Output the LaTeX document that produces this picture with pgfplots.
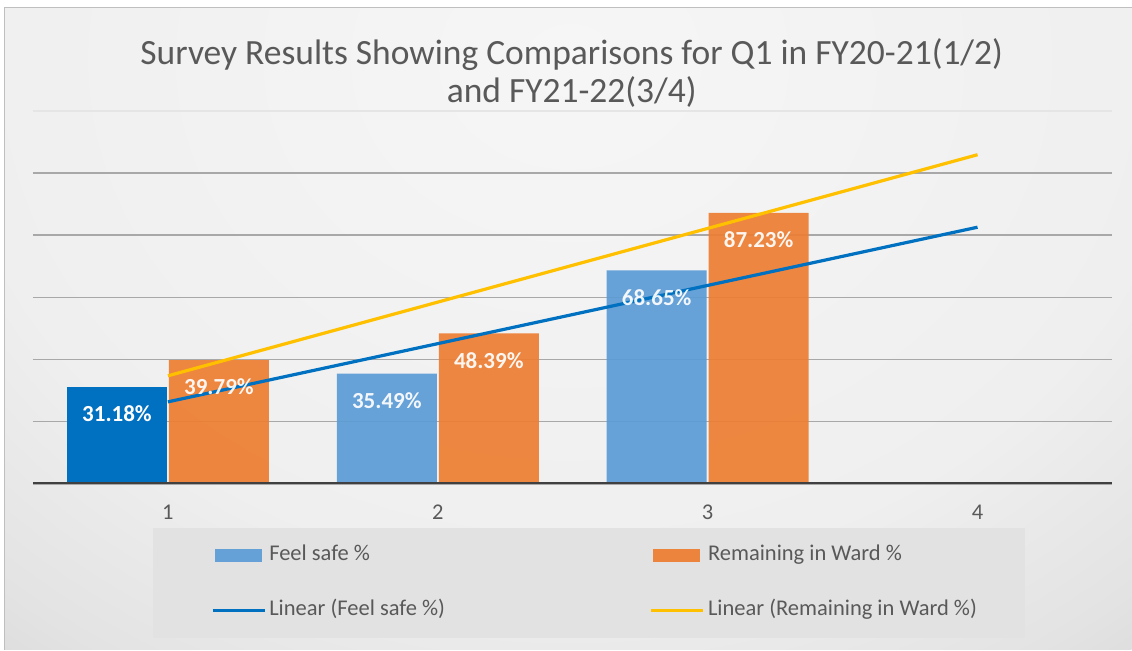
\documentclass[border=0pt]{standalone}
\usepackage{fontspec}
\setmainfont{Carlito}
\usepackage{pgfplots}
\pgfplotsset{compat=1.18}

\definecolor{barblue}{HTML}{5B9BD5}
\definecolor{darkblue}{HTML}{0070C0}
\definecolor{barorange}{HTML}{ED7D31}
\definecolor{trendyellow}{HTML}{FFC000}
\definecolor{txtgray}{HTML}{595959}
\definecolor{gridgray}{HTML}{A8A8A8}
\definecolor{legfill}{HTML}{E2E2E2}
% background gradient stops
\definecolor{bgA}{HTML}{F6F6F6}
\definecolor{bgB}{HTML}{EFEFEF}
\definecolor{bgC}{HTML}{E3E3E3}
\definecolor{bgD}{HTML}{D5D5D5}
\definecolor{bgE}{HTML}{C8C8C8}
\definecolor{bgF}{HTML}{C4C4C4}
\pgfdeclareradialshading{chartbg}{\pgfpoint{0bp}{0bp}}{%
  color(0bp)=(bgA); color(13bp)=(bgB); color(18bp)=(bgC);
  color(21.5bp)=(bgD); color(24.5bp)=(bgE); color(50bp)=(bgF)}

\begin{document}
\begin{tikzpicture}[x=1pt,y=1pt]
\fill[white] (0,0) rectangle (1132,650);
\begin{scope}
  \clip (5,0) rectangle (1132,642);
  \shade[shading=chartbg] (570,590) ellipse (1180 and 980);
\end{scope}
\draw[black!25, line width=1pt] (5,0) -- (5,642) -- (1132,642);

\node[font=\fontsize{35.5}{38}\selectfont, text=txtgray, align=center]
  at (572,577) {Survey Results Showing Comparisons for Q1 in FY20-21(1/2)\\and FY21-22(3/4)};

\begin{axis}[
  at={(33pt,166pt)}, anchor=south west,
  scale only axis,
  width=1080pt, height=373pt,
  xmin=0.5, xmax=4.5,
  ymin=0, ymax=120,
  axis line style={draw=none},
  tick style={draw=none},
  major tick length=0pt,
  xtick={1,2,3,4},
  ytick={0,20,40,60,80,100},
  yticklabels={},
  ymajorgrids,
  major grid style={draw=gridgray, line width=1.5pt},
  extra y ticks={120},
  extra y tick labels={},
  extra y tick style={ymajorgrids=true, major grid style={draw=black!10, line width=1.5pt}},
  /pgf/number format/assume math mode=true,
  xticklabel style={font=\fontsize{22.5}{27}\selectfont, text=txtgray, yshift=-18pt},
  nodes near coords style={font=\bfseries\fontsize{23}{27}\selectfont, text=white,
    anchor=center, yshift=-27pt},
  legend columns=2,
  legend cell align=left,
  legend style={at={(0.1111,-0.118)}, anchor=north west,
    fill=legfill, draw=none,
    inner xsep=45pt, inner ysep=14.5pt, row sep=29pt,
    font=\fontsize{22.5}{27}\selectfont, text=txtgray,
    nodes={inner sep=3pt, text height=15pt, text depth=5pt},
    /tikz/column 2/.style={column sep=202pt}},
]
% Feel safe % (categories 2 and 3)
\addplot[ybar, bar width=100pt, bar shift=-51pt, fill=barblue, fill opacity=0.92, draw=none,
  nodes near coords={\pgfmathprintnumber[fixed,fixed zerofill,precision=2]{\pgfplotspointmeta}\%},
  every node near coord/.append style={xshift=-51pt},
  legend image code/.code={\path (-15pt,0pt); \fill[barblue] (0pt,-6.5pt) rectangle (47pt,6.5pt);}]
  coordinates {(2,35.49) (3,68.65)};
\addlegendentry{Feel safe \%}
% Feel safe % (category 1, highlighted)
\addplot[ybar, bar width=100pt, bar shift=-51pt, fill=darkblue, draw=none, forget plot,
  nodes near coords={\pgfmathprintnumber[fixed,fixed zerofill,precision=2]{\pgfplotspointmeta}\%},
  every node near coord/.append style={xshift=-51pt}]
  coordinates {(1,31.18)};
% Remaining in Ward %
\addplot[ybar, bar width=100pt, bar shift=51pt, fill=barorange, fill opacity=0.92, draw=none,
  nodes near coords={\pgfmathprintnumber[fixed,fixed zerofill,precision=2]{\pgfplotspointmeta}\%},
  every node near coord/.append style={xshift=51pt},
  legend image code/.code={\fill[barorange] (0pt,-6.5pt) rectangle (47pt,6.5pt);}]
  coordinates {(1,39.79) (2,48.39) (3,87.23)};
\addlegendentry{Remaining in Ward \%}
% category axis baseline
\addplot[sharp plot, black!75, line width=3pt, forget plot] coordinates {(0.5,0) (4.5,0)};
% linear trendlines
\addplot[sharp plot, darkblue, line width=3.2pt,
  legend image code/.code={\path (-15pt,0pt); \draw[darkblue, line width=3.2pt] (-2pt,0pt) -- (50pt,0pt);}]
  coordinates {(1,26.37) (4,82.58)};
\addlegendentry{Linear (Feel safe \%)}
\addplot[sharp plot, trendyellow, line width=3.2pt,
  legend image code/.code={\draw[trendyellow, line width=3.2pt] (-2pt,0pt) -- (50pt,0pt);}]
  coordinates {(1,34.75) (4,105.91)};
\addlegendentry{Linear (Remaining in Ward \%)}
\end{axis}
\end{tikzpicture}
\end{document}
